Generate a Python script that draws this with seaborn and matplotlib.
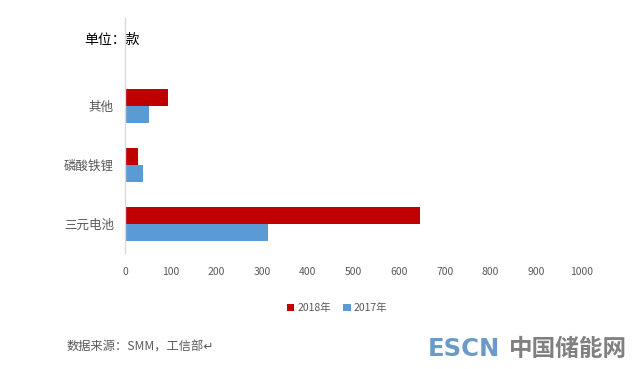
import matplotlib
matplotlib.use("Agg")
import matplotlib.pyplot as plt
import seaborn as sns
import pandas as pd
from matplotlib.patches import Patch

categories = ["其他", "磷酸铁锂", "三元电池"]
values_2018 = [94, 29, 645]
values_2017 = [52, 39, 314]
series = ["2018年", "2017年"]
xticks = [0, 100, 200, 300, 400, 500, 600, 700, 800, 900, 1000]
colors = ["#C00000", "#5B9BD5"]

sns.set_theme(style="white")
plt.rcParams["font.family"] = ["Noto Sans CJK SC", "DejaVu Sans"]

df = pd.DataFrame({
    "cat": categories * 2,
    "val": values_2018 + values_2017,
    "year": [series[0]] * 3 + [series[1]] * 3,
})

W, H = 636, 369
fig = plt.figure(figsize=(W / 100, H / 100), dpi=100)
ax = fig.add_axes([125 / W, 1 - 253 / H, (582 - 125) / W, (253 - 18) / H])

sns.barplot(data=df, y="cat", x="val", hue="year", order=categories,
            hue_order=series, palette=colors, orient="h", width=0.58,
            ax=ax, legend=False, saturation=1, linewidth=0, edgecolor="none")

ax.set_xlim(0, 1000)
ax.set_ylim(2.5, -1.5)
ax.set_xticks(xticks)
ax.set_xticklabels([str(t) for t in xticks])
ax.set_xlabel("")
ax.set_ylabel("")
ax.tick_params(axis="x", length=0, pad=10, labelsize=7.5, labelcolor="#595959")
ax.tick_params(axis="y", length=0, pad=8, labelsize=9, labelcolor="#595959")
for s in ["top", "right", "bottom"]:
    ax.spines[s].set_visible(False)
ax.spines["left"].set_color("#D9D9D9")
ax.spines["left"].set_linewidth(1)
ax.grid(False)

handles = [Patch(facecolor=c, edgecolor="none") for c in colors]
fig.legend(handles, series, loc="center", bbox_to_anchor=(337 / W, 1 - 308 / H),
           ncol=2, frameon=False, fontsize=7.5, handlelength=0.7, handleheight=0.7,
           handletextpad=0.3, columnspacing=1.2, labelcolor="#595959")

fig.text(84 / W, 1 - 40 / H, "单位：款", fontsize=10, color="#000000",
         ha="left", va="center")

fig.text(67 / W, 1 - 347 / H, "数据来源：SMM，工信部↵", fontsize=8.8, color="#595959",
         style="italic", ha="left", va="center")

fig.text(428 / W, 1 - 349 / H, "ESCN", fontsize=17.5, fontweight="bold",
         color="#6A9AC8", ha="left", va="center", family=["DejaVu Sans"])
fig.text(509 / W, 1 - 349 / H, "中国储能网", fontsize=17, fontweight="bold",
         color="#808080", ha="left", va="center")

fig.savefig("out.png", dpi=100)
